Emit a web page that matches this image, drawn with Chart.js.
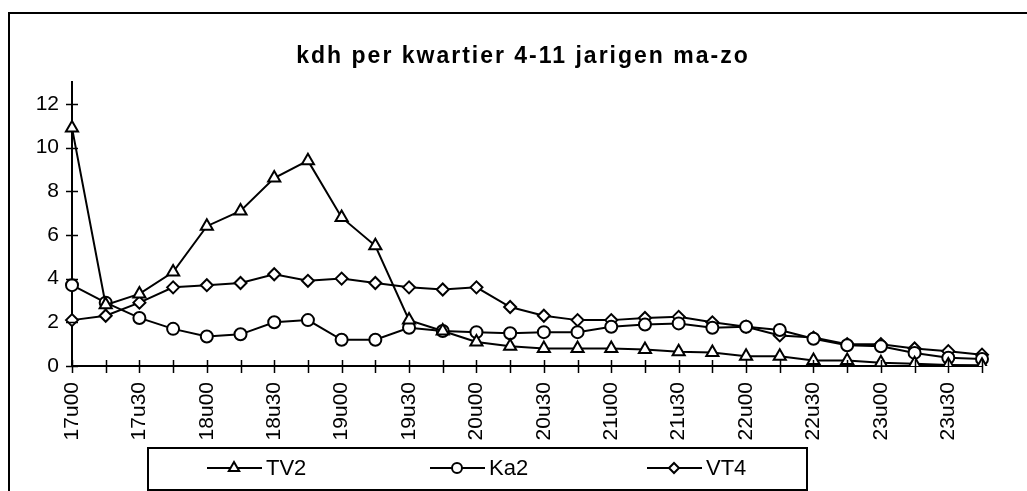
<!doctype html>
<html lang="nl">
<head>
<meta charset="utf-8">
<title>kdh per kwartier 4-11 jarigen ma-zo</title>
<style>
  * { margin: 0; padding: 0; }
  body { background: #fff; }
  .chartBox { width: 1027px; height: 491px; }
</style>
</head>
<body>
<div class="chartBox"><canvas id="myChart" width="1027" height="491"></canvas></div>
<script src="https://cdn.jsdelivr.net/npm/chart.js/dist/chart.umd.min.js"></script>
<script>
// data
const chartTitle = 'kdh per kwartier 4-11 jarigen ma-zo';
const times = ['17u00','17u15','17u30','17u45','18u00','18u15','18u30','18u45',
               '19u00','19u15','19u30','19u45','20u00','20u15','20u30','20u45',
               '21u00','21u15','21u30','21u45','22u00','22u15','22u30','22u45',
               '23u00','23u15','23u30','23u45'];
const tv2 = [10.9, 2.8, 3.3, 4.3, 6.4, 7.1, 8.6, 9.4, 6.8, 5.5, 2.1, 1.6, 1.1, 0.9,
             0.8, 0.8, 0.8, 0.75, 0.65, 0.62, 0.45, 0.45, 0.25, 0.25, 0.15, 0.1, 0.05, 0.03];
const ka2 = [3.7, 2.9, 2.2, 1.7, 1.35, 1.45, 2.0, 2.1, 1.2, 1.2, 1.75, 1.6, 1.55, 1.5,
             1.55, 1.55, 1.8, 1.9, 1.95, 1.75, 1.8, 1.65, 1.25, 0.95, 0.9, 0.6, 0.38, 0.32];
const vt4 = [2.1, 2.3, 2.9, 3.6, 3.7, 3.8, 4.2, 3.9, 4.0, 3.8, 3.6, 3.5, 3.6, 2.7,
             2.3, 2.1, 2.1, 2.2, 2.25, 2.0, 1.8, 1.4, 1.3, 1.0, 1.0, 0.8, 0.68, 0.52];
const yTicks = [0, 2, 4, 6, 8, 10, 12];

Chart.defaults.font.family = '"Liberation Sans", Arial, sans-serif';
Chart.defaults.color = '#000';

function series(label, values, style, radius) {
  return {
    label: label,
    data: values,
    borderColor: '#000',
    borderWidth: 2,
    pointStyle: style,
    pointRadius: radius,
    pointHoverRadius: radius,
    pointBackgroundColor: '#fff',
    pointBorderColor: '#000',
    pointBorderWidth: 2,
    tension: 0,
    fill: false
  };
}

const data = {
  labels: times,
  datasets: [
    series('TV2', tv2, 'triangle', 7),
    series('Ka2', ka2, 'circle', 6),
    series('VT4', vt4, 'rectRot', 6)
  ]
};

// frame, title, crossing ticks and the legend box
const decorations = {
  id: 'decorations',
  beforeDraw(chart) {
    const ctx = chart.ctx;
    ctx.save();
    ctx.fillStyle = '#fff';
    ctx.fillRect(0, 0, chart.width, chart.height);
    ctx.strokeStyle = '#000';
    ctx.lineWidth = 2;
    ctx.beginPath();
    ctx.moveTo(9, chart.height);
    ctx.lineTo(9, 13);
    ctx.lineTo(chart.width, 13);
    ctx.stroke();
    ctx.restore();
  },
  afterDraw(chart) {
    const ctx = chart.ctx;
    const {left, bottom} = chart.chartArea;
    const xs = chart.scales.x, ys = chart.scales.y;
    ctx.save();

    // title
    ctx.fillStyle = '#000';
    ctx.font = 'bold 23px "Liberation Sans", Arial, sans-serif';
    ctx.letterSpacing = '2px';
    ctx.textAlign = 'center';
    ctx.textBaseline = 'alphabetic';
    ctx.fillText(chartTitle, 523, 63);
    ctx.letterSpacing = '0px';

    // ticks across the axes
    ctx.strokeStyle = '#000';
    ctx.lineWidth = 1.5;
    ctx.beginPath();
    ys.ticks.forEach(t => {
      const y = Math.round(ys.getPixelForValue(t.value)) + 0.5;
      ctx.moveTo(left - 6, y);
      ctx.lineTo(left + 6, y);
    });
    xs.ticks.forEach((t, i) => {
      const x = Math.round(xs.getPixelForTick(i)) + 0.5;
      ctx.moveTo(x, bottom - 6);
      ctx.lineTo(x, bottom + 7);
    });
    ctx.stroke();

    // legend
    ctx.lineWidth = 2;
    ctx.strokeRect(148, 448, 659, 42);
    const starts = [207, 430, 647];
    ctx.font = '22px "Liberation Sans", Arial, sans-serif';
    ctx.textAlign = 'left';
    ctx.textBaseline = 'middle';
    chart.data.datasets.forEach((ds, i) => {
      const x0 = starts[i], y = 468;
      ctx.strokeStyle = '#000';
      ctx.lineWidth = 2;
      ctx.beginPath();
      ctx.moveTo(x0, y);
      ctx.lineTo(x0 + 55, y);
      ctx.stroke();
      ctx.fillStyle = '#fff';
      Chart.helpers.drawPoint(ctx, {
        pointStyle: ds.pointStyle, rotation: 0,
        radius: ds.pointRadius - 1, borderWidth: 2
      }, x0 + 27, y);
      ctx.fillStyle = '#000';
      ctx.fillText(ds.label, x0 + 59, y + 1);
    });
    ctx.restore();
  }
};

const config = {
  type: 'line',
  data,
  options: {
    responsive: false,
    animation: false,
    events: [],
    layout: { padding: { left: 10, top: 82, right: 45, bottom: 45 } },
    plugins: {
      legend: { display: false },
      title: { display: false },
      tooltip: { enabled: false }
    },
    scales: {
      x: {
        offset: false,
        grid: { display: false, drawTicks: false },
        border: { display: true, color: '#000', width: 2 },
        ticks: {
          autoSkip: false,
          maxRotation: 90,
          minRotation: 90,
          padding: 16,
          font: { size: 21 },
          callback: (v, i) => (i % 2 === 0 ? times[i] : '')
        },
        afterFit: s => { s.height = 80; }
      },
      y: {
        min: 0,
        max: 13,
        grid: { display: false, drawTicks: false },
        border: { display: true, color: '#000', width: 2 },
        ticks: { padding: 13, font: { size: 21 }, includeBounds: false },
        afterBuildTicks: s => { s.ticks = yTicks.map(v => ({ value: v })); },
        afterFit: s => { s.width = 62; }
      }
    }
  },
  plugins: [decorations]
};

const myChart = new Chart(document.getElementById('myChart'), config);
</script>
</body>
</html>
